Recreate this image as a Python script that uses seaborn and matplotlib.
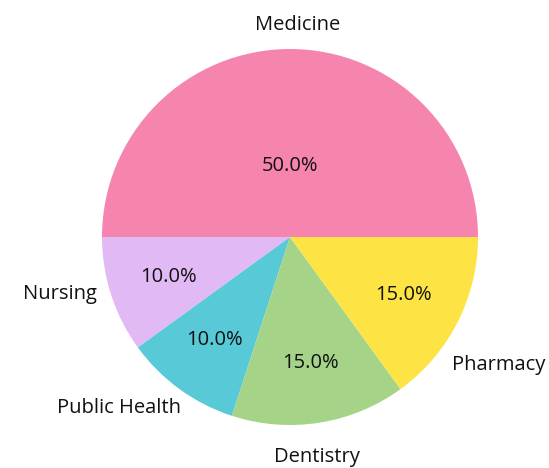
import numpy as np
import matplotlib
matplotlib.use("Agg")
from matplotlib import pyplot as plt
import seaborn as sns

# data
programs = ["Medicine", "Nursing", "Public Health", "Dentistry", "Pharmacy"]
shares = [50, 10, 10, 15, 15]
colors = ["#F585AF", "#E1BAF5", "#58C9D6", "#A5D388", "#FDE344"]

sns.set_theme(style="white")
plt.rcParams["font.family"] = ["Open Sans", "DejaVu Sans"]

fig = plt.figure(figsize=(5.49, 4.68), dpi=100)
ax = fig.add_axes([0, 0, 1, 1])

wedges, texts, autotexts = ax.pie(
    shares, labels=programs, colors=colors, startangle=0,
    autopct="%1.1f%%", pctdistance=0.68, labeldistance=1.1,
    radius=1, wedgeprops=dict(linewidth=0),
    textprops=dict(fontsize=14.5, color="#111111"),
)

# outside labels: centred text, placed the way the reference has them
# (distance from centre, angle in degrees)
label_place = {
    "Medicine": (1.13, 88),
    "Nursing": (1.26, 194),
    "Public Health": (1.29, 225),
    "Dentistry": (1.18, 277),
    "Pharmacy": (1.30, 328.5),
}
for t in texts:
    d, a = label_place[t.get_text()]
    t.set_position((d * np.cos(np.radians(a)), d * np.sin(np.radians(a))))
    t.set_ha("center")
    t.set_va("center")

# the big slice has its percentage closer to the centre
for t, s in zip(autotexts, shares):
    if s >= 50:
        x, y = t.get_position()
        t.set_position((x * 0.38 / 0.68, y * 0.38 / 0.68))

r_px = 188.0
cx, cy = 290.0, 237.0
W, H = 549.0, 468.0
ax.set_xlim(-cx / r_px, (W - cx) / r_px)
ax.set_ylim(-(H - cy) / r_px, cy / r_px)
ax.set_aspect("equal")
ax.axis("off")

fig.savefig("out.png", dpi=100)
